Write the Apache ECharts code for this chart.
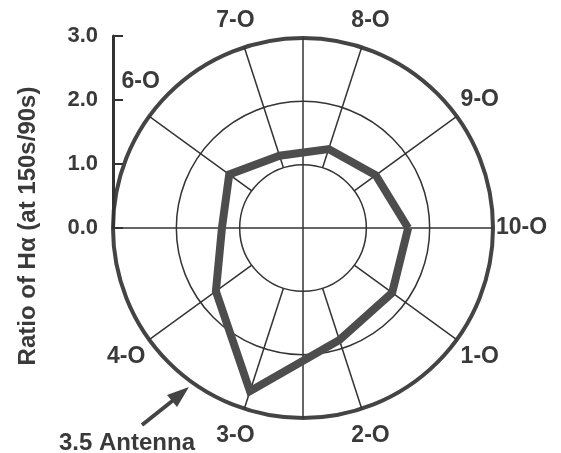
<!DOCTYPE html>
<html>
<head>
<meta charset="utf-8">
<script src="https://cdn.jsdelivr.net/npm/echarts@6/dist/echarts.min.js"></script>
<style>
  html, body { margin: 0; padding: 0; background: #fff; }
  #main { width: 561px; height: 453px; }
</style>
</head>
<body>
<div id="main"></div>
<script>
// spokes, counter-clockwise from the right (10-O) ; 5-O has no label in the figure
var spokeLabels = ['10-O', '9-O', '8-O', '7-O', '6-O', '', '4-O', '3-O', '2-O', '1-O'];
var spokeAngles = [0, 36, 72, 108, 144, 180, 216, 252, 288, 324];
// ratio of H-alpha (150s / 90s) read at each spoke
var ratios = [1.66, 1.42, 1.31, 1.20, 1.44, 1.28, 1.70, 2.71, 1.86, 1.74];
var radialTicks = [0, 1, 2, 3];

var ink = '#3a3a3a';
var font = '"Liberation Sans", Arial, sans-serif';

var myChart = echarts.init(document.getElementById('main'));

// closed outline of the ratios
var outline = spokeAngles.map(function (a, i) { return [ratios[i], a]; });
outline.push(outline[0]);

// grid spokes from the inner circle to the outer circle
var spokeSeries = spokeAngles.filter(function (a) { return a % 90 !== 0; }).map(function (a) {
    return {
        type: 'line', coordinateSystem: 'polar', symbol: 'none', silent: true, z: 2,
        lineStyle: { color: '#333', width: 1.5 },
        data: [[radialTicks[1], a], [radialTicks[3], a]]
    };
});
// cross through the centre
[[0, 180], [90, 270]].forEach(function (pair) {
    spokeSeries.push({
        type: 'line', coordinateSystem: 'polar', symbol: 'none', silent: true, z: 2,
        lineStyle: { color: '#333', width: 1.5 },
        data: [[3, pair[0]], [3, pair[1]]]
    });
});

var labelData = spokeAngles.map(function (a, i) {
    // 6-O sits a little above its spoke, clear of the axis
    return { name: spokeLabels[i], value: [3.45, spokeLabels[i] === '6-O' ? a - 6 : a] };
});

var option = {
    animation: false,
    polar: { center: [303, 228], radius: 190 },
    angleAxis: {
        type: 'value', min: 0, max: 360, startAngle: 0, clockwise: false,
        axisLine: { show: true, lineStyle: { color: '#444', width: 4 } },
        axisTick: { show: false }, axisLabel: { show: false }, splitLine: { show: false }
    },
    radiusAxis: {
        type: 'value', min: 0, max: 3, interval: 1,
        axisLine: { show: false }, axisTick: { show: false }, axisLabel: { show: false },
        splitLine: { show: true, lineStyle: { color: '#333', width: 1.5 } }
    },
    grid: { left: 113, top: 36, width: 1, height: 192 },
    xAxis: { type: 'value', show: false },
    yAxis: {
        type: 'value', min: 0, max: 3, interval: 1,
        axisLine: { show: true, lineStyle: { color: '#333', width: 3 } },
        axisTick: { show: true, inside: true, length: 10, lineStyle: { color: '#333', width: 2 } },
        axisLabel: {
            margin: 15, color: ink, fontSize: 22, fontWeight: 'bold', fontFamily: font,
            formatter: function (v) { return v.toFixed(1); }
        },
        splitLine: { show: false }
    },
    series: spokeSeries.concat([
        {
            name: 'Ratio',
            type: 'line', coordinateSystem: 'polar', symbol: 'none', z: 5,
            lineStyle: { color: '#4d4d4d', width: 8, join: 'miter' },
            data: outline
        },
        {
            type: 'scatter', coordinateSystem: 'polar', symbolSize: 1, silent: true, z: 6,
            clip: false,
            itemStyle: { color: 'rgba(0,0,0,0)', opacity: 1 },
            label: {
                show: true, position: 'inside', formatter: '{b}',
                color: ink, fontSize: 23, fontWeight: 'bold', fontFamily: font,
                textBorderWidth: 0, textBorderColor: 'transparent'
            },
            data: labelData
        }
    ]),
    graphic: [
        {
            type: 'text', x: 28, y: 226, rotation: Math.PI / 2,
            style: {
                text: 'Ratio of H\u03b1 (at 150s/90s)', fill: ink, font: 'bold 24px ' + font,
                align: 'center', verticalAlign: 'middle'
            }
        },
        {
            type: 'text', x: 59, y: 443,
            style: {
                text: '3.5 Antenna', fill: ink, font: 'bold 24px ' + font,
                align: 'left', verticalAlign: 'middle'
            }
        },
        {
            type: 'line', shape: { x1: 142, y1: 425, x2: 176, y2: 398 },
            style: { stroke: '#444', lineWidth: 4 }
        },
        {
            type: 'polygon', shape: { points: [[189, 387], [177, 407], [167, 395]] },
            style: { fill: '#444' }
        }
    ]
};

myChart.setOption(option);
</script>
</body>
</html>
